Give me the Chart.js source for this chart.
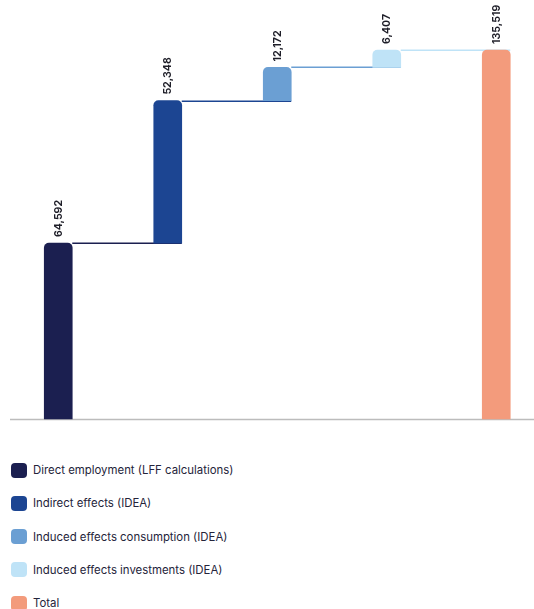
<!DOCTYPE html>
<html>
<head>
<meta charset="utf-8">
<script src="https://cdn.jsdelivr.net/npm/chart.js@4"></script>
<style>
  html, body { margin: 0; padding: 0; background: #ffffff; }
  #wrap { position: relative; width: 534px; height: 609px; overflow: hidden; }
  #chart { position: absolute; left: 0; top: 0; }
  #legend { position: absolute; left: 11px; top: 462px; font-family: Inter, "Noto Sans", sans-serif; font-size: 11.4px; color: #24243a; }
  .item { display: flex; align-items: center; height: 16px; margin-bottom: 17.3px; }
  .sw { width: 16px; height: 15px; border-radius: 4px; margin-right: 6px; flex: none; }
</style>
</head>
<body>
<div id="wrap">
  <canvas id="chart" width="556" height="430" style="width:556px;height:430px"></canvas>
  <div id="legend"></div>
</div>
<script>
// Employment contributions (jobs) and their total
const categories = [
  'Direct employment (LFF calculations)',
  'Indirect effects (IDEA)',
  'Induced effects consumption (IDEA)',
  'Induced effects investments (IDEA)',
  'Total'
];
const values = [64592, 52348, 12172, 6407, 135519];
const isTotal = [false, false, false, false, true];
const colors = ['#1b1f50', '#1c4592', '#6b9fd3', '#bfe3f7', '#f39b7c'];

// Floating ranges: each step starts where the previous one ended
const ranges = [];
let running = 0;
values.forEach((v, i) => {
  if (isTotal[i]) {
    ranges.push([0, v]);
  } else {
    ranges.push([running, running + v]);
    running += v;
  }
});

const fmt = v => v.toLocaleString('en-US');

// Connector lines between consecutive steps, drawn under the bars
const connectors = {
  id: 'connectors',
  beforeDatasetsDraw(chart) {
    const ctx = chart.ctx;
    const bars = chart.getDatasetMeta(0).data;
    ctx.save();
    ctx.lineWidth = 1.5;
    for (let i = 0; i < bars.length - 1; i++) {
      const a = bars[i], b = bars[i + 1];
      const y = Math.round(a.y) + 0.25;
      ctx.strokeStyle = colors[i];
      ctx.beginPath();
      ctx.moveTo(a.x + a.width / 2, y);
      ctx.lineTo(b.x + b.width / 2, y);
      ctx.stroke();
    }
    ctx.restore();
  }
};

// Baseline along the bottom of the bars
const baseline = {
  id: 'baseline',
  beforeDatasetsDraw(chart) {
    const ctx = chart.ctx;
    const y = chart.scales.y.getPixelForValue(0);
    ctx.save();
    ctx.strokeStyle = '#bcbcbc';
    ctx.lineWidth = 1.5;
    ctx.beginPath();
    ctx.moveTo(10, y + 0.5);
    ctx.lineTo(556, y + 0.5);
    ctx.stroke();
    ctx.restore();
  }
};

// Rotated value labels above each bar
const valueLabels = {
  id: 'valueLabels',
  afterDatasetsDraw(chart) {
    const ctx = chart.ctx;
    const bars = chart.getDatasetMeta(0).data;
    ctx.save();
    ctx.font = 'bold 10.5px Inter, "Noto Sans", sans-serif';
    ctx.fillStyle = '#1e1e28';
    ctx.textAlign = 'left';
    ctx.textBaseline = 'middle';
    bars.forEach((bar, i) => {
      ctx.save();
      ctx.translate(bar.x + 0.5, bar.y - 6);
      ctx.rotate(-Math.PI / 2);
      ctx.fillText(fmt(values[i]), 0, 0);
      ctx.restore();
    });
    ctx.restore();
  }
};

new Chart(document.getElementById('chart'), {
  type: 'bar',
  data: {
    labels: categories,
    datasets: [{
      data: ranges,
      backgroundColor: colors,
      borderWidth: 0,
      barThickness: 28,
      borderRadius: { topLeft: 5, topRight: 5, bottomLeft: 0, bottomRight: 0 },
      borderSkipped: false,
      clip: false
    }]
  },
  options: {
    responsive: false,
    animation: false,
    layout: { padding: { left: 3.5, right: 5, top: 50, bottom: 11 } },
    plugins: { legend: { display: false }, tooltip: { enabled: false } },
    scales: {
      x: { display: false },
      y: { display: false, min: 0, max: values[values.length - 1] }
    }
  },
  plugins: [baseline, connectors, valueLabels]
});

// Legend rows, one per category
const legend = document.getElementById('legend');
categories.forEach((c, i) => {
  const row = document.createElement('div');
  row.className = 'item';
  const sw = document.createElement('span');
  sw.className = 'sw';
  sw.style.background = colors[i];
  const tx = document.createElement('span');
  tx.textContent = c;
  row.appendChild(sw);
  row.appendChild(tx);
  legend.appendChild(row);
});
</script>
</body>
</html>
